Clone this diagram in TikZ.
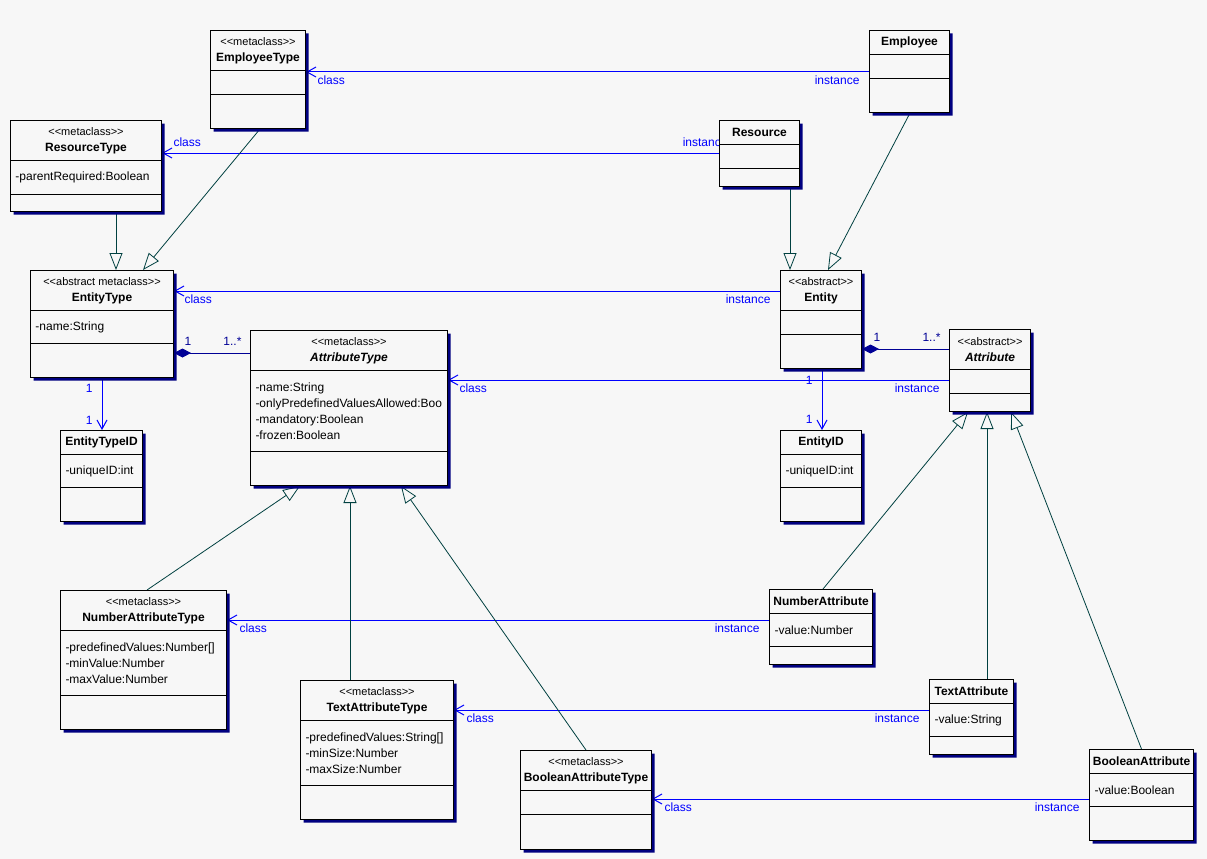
\documentclass[tikz,border=0pt]{standalone}
\usepackage{fontspec}
\setmainfont{Liberation Sans}
\usetikzlibrary{arrows.meta,shapes.multipart,shadows,backgrounds}

\definecolor{bgpaper}{RGB}{247,247,247}
\definecolor{shade}{RGB}{0,0,128}
\definecolor{genline}{RGB}{0,64,64}
\definecolor{assoc}{RGB}{0,0,255}
\definecolor{comp}{RGB}{0,0,150}

\pgfdeclarelayer{paper}
\pgfsetlayers{paper,background,main}

% class compartments
\newcommand{\ctitle}[4]{\parbox[c][#2pt][c]{#1pt}{\centering{\fontsize{11}{14}\selectfont<\kern0pt<#3>\kern0pt>}\\\textbf{#4}}}
\newcommand{\cname}[3]{\parbox[c][#2pt][c]{#1pt}{\centering\textbf{#3}}}
\newcommand{\cattr}[3]{\parbox[c][#2pt][c]{#1pt}{\raggedright\leftskip=5pt #3}}

\tikzset{
  umlclass/.style={rectangle split, rectangle split parts=3, draw=black, line width=1pt,
    fill=bgpaper, inner sep=0pt, anchor=north west,
    drop shadow={shadow xshift=3pt, shadow yshift=-3pt, fill=shade, opacity=1},
    font=\fontsize{12}{16}\selectfont},
  instof/.style={draw=assoc, line width=1pt, -{Straight Barb[length=9pt,width=10pt]}},
  generalize/.style={draw=genline, line width=0.8pt, -{Triangle[open,length=17pt,width=13pt]}},
  comppart/.style={draw=comp, line width=1pt, {Diamond[length=17pt,width=9pt]}-},
  lbl/.style={text=assoc, font=\fontsize{12}{14}\selectfont, inner xsep=0pt, inner ysep=3pt},
  mult/.style={lbl, text=comp, inner ysep=7pt}
}

\begin{document}
\begin{tikzpicture}[x=1pt,y=1pt,yscale=-1,xscale=1]
\begin{pgfonlayer}{paper}
\fill[bgpaper] (0,0) rectangle (1207,859);
\end{pgfonlayer}
\useasboundingbox (0,0) rectangle (1207,859);

%Classes
\node[umlclass] (employeetype) at (210,30) {\ctitle{95}{39}{metaclass}{EmployeeType}\nodepart{two}\cattr{95}{23}{}\nodepart{three}\cattr{95}{33}{}};
\node[umlclass] (resourcetype) at (10,120) {\ctitle{151}{39}{metaclass}{ResourceType}\nodepart{two}\cattr{151}{33}{-parentRequired:Boolean}\nodepart{three}\cattr{151}{16}{}};
\node[umlclass] (employee) at (869,30) {\cname{80}{23}{Employee}\nodepart{two}\cattr{80}{23}{}\nodepart{three}\cattr{80}{33}{}};
\node[umlclass] (resource) at (719,120) {\cname{80}{23}{Resource}\nodepart{two}\cattr{80}{23}{}\nodepart{three}\cattr{80}{17}{}};
\node[umlclass] (entitytype) at (30,270) {\ctitle{143}{39}{abstract metaclass}{EntityType}\nodepart{two}\cattr{143}{32}{-name:String}\nodepart{three}\cattr{143}{33}{}};
\node[umlclass] (entity) at (780,270) {\ctitle{81}{39}{abstract}{Entity}\nodepart{two}\cattr{81}{23}{}\nodepart{three}\cattr{81}{33}{}};
\node[umlclass] (attributetype) at (250,330) {\ctitle{197}{39}{metaclass}{\textit{AttributeType}}\nodepart{two}\cattr{197}{80}{-name:String\\-onlyPredefinedValuesAllowed:Boo\\-mandatory:Boolean\\-frozen:Boolean}\nodepart{three}\cattr{197}{33}{}};
\node[umlclass] (attribute) at (949,329) {\ctitle{81}{39}{abstract}{\textit{Attribute}}\nodepart{two}\cattr{81}{23}{}\nodepart{three}\cattr{81}{17}{}};
\node[umlclass] (entitytypeid) at (60,430) {\cname{82}{23}{EntityTypeID}\nodepart{two}\cattr{82}{32}{-uniqueID:int}\nodepart{three}\cattr{82}{33}{}};
\node[umlclass] (entityid) at (780,430) {\cname{81}{23}{EntityID}\nodepart{two}\cattr{81}{32}{-uniqueID:int}\nodepart{three}\cattr{81}{33}{}};
\node[umlclass] (numberattributetype) at (60,590) {\ctitle{166}{39}{metaclass}{NumberAttributeType}\nodepart{two}\cattr{166}{64}{-predefinedValues:Number[]\\-minValue:Number\\-maxValue:Number}\nodepart{three}\cattr{166}{33}{}};
\node[umlclass] (textattributetype) at (300,680) {\ctitle{153}{39}{metaclass}{TextAttributeType}\nodepart{two}\cattr{153}{64}{-predefinedValues:String[]\\-minSize:Number\\-maxSize:Number}\nodepart{three}\cattr{153}{33}{}};
\node[umlclass] (booleanattributetype) at (520,750) {\ctitle{131}{39}{metaclass}{BooleanAttributeType}\nodepart{two}\cattr{131}{23}{}\nodepart{three}\cattr{131}{34}{}};
\node[umlclass] (numberattribute) at (769,589) {\cname{103}{23}{NumberAttribute}\nodepart{two}\cattr{103}{32}{-value:Number}\nodepart{three}\cattr{103}{17}{}};
\node[umlclass] (textattribute) at (929,679) {\cname{84}{23}{TextAttribute}\nodepart{two}\cattr{84}{32}{-value:String}\nodepart{three}\cattr{84}{17}{}};
\node[umlclass] (booleanattribute) at (1089,749) {\cname{104}{23}{BooleanAttribute}\nodepart{two}\cattr{104}{32}{-value:Boolean}\nodepart{three}\cattr{104}{33}{}};

\begin{pgfonlayer}{background}
%Instance of
\draw[instof] (employee.west |- 0,72) -- (employeetype.east |- 0,72)
  node[lbl, pos=0, anchor=north east, xshift=-9pt] (inst1) {instance}
  node[lbl, pos=1, anchor=north west, xshift=11pt] (cls1) {class};
\draw[instof] (resource.west |- 0,153) -- (resourcetype.east |- 0,153)
  node[lbl, pos=0, anchor=south east, inner ysep=6pt, xshift=9pt] (inst2) {instance}
  node[lbl, pos=1, anchor=south west, inner ysep=6pt, xshift=11pt] (cls2) {class};
\draw[instof] (entity.west |- 0,291) -- (entitytype.east |- 0,291)
  node[lbl, pos=0, anchor=north east, xshift=-9pt] (inst3) {instance}
  node[lbl, pos=1, anchor=north west, xshift=10pt] (cls3) {class};
\draw[instof] (attribute.west |- 0,380) -- (attributetype.east |- 0,380)
  node[lbl, pos=0, anchor=north east, xshift=-9pt] (inst4) {instance}
  node[lbl, pos=1, anchor=north west, xshift=11pt] (cls4) {class};
\draw[instof] (numberattribute.west |- 0,620) -- (numberattributetype.east |- 0,620)
  node[lbl, pos=0, anchor=north east, xshift=-9pt] (inst5) {instance}
  node[lbl, pos=1, anchor=north west, xshift=12pt] (cls5) {class};
\draw[instof] (textattribute.west |- 0,710) -- (textattributetype.east |- 0,710)
  node[lbl, pos=0, anchor=north east, xshift=-9pt] (inst6) {instance}
  node[lbl, pos=1, anchor=north west, xshift=12pt] (cls6) {class};
\draw[instof] (booleanattribute.west |- 0,799) -- (booleanattributetype.east |- 0,799)
  node[lbl, pos=0, anchor=north east, xshift=-9pt] (inst7) {instance}
  node[lbl, pos=1, anchor=north west, xshift=12pt] (cls7) {class};

%Generalization
\draw[generalize] (resourcetype.south -| 116,0) -- (entitytype.north -| 116,0);
\draw[generalize] (employeetype.south -| 260,0) -- (entitytype.north -| 143,0);
\draw[generalize] (resource.south -| 790,0) -- (entity.north -| 790,0);
\draw[generalize] (employee.south -| 910,0) -- (entity.north -| 828,0);
\draw[generalize] (numberattributetype.north -| 147,0) -- (attributetype.south -| 300,0);
\draw[generalize] (textattributetype.north -| 350,0) -- (attributetype.south -| 350,0);
\draw[generalize] (booleanattributetype.north) -- (attributetype.south -| 401,0);
\draw[generalize] (numberattribute.north -| 823,0) -- (attribute.south -| 968,0);
\draw[generalize] (textattribute.north -| 987,0) -- (attribute.south -| 987,0);
\draw[generalize] (booleanattribute.north) -- (attribute.south -| 1011,0);

%Composition
\draw[comppart] (entitytype.east |- 0,353) -- (attributetype.west |- 0,353)
  node[mult, pos=0, anchor=south west, xshift=10pt] (m1) {1}
  node[mult, pos=1, anchor=south east, xshift=-8pt] (m2) {1..*};
\draw[comppart] (entity.east |- 0,349) -- (attribute.west |- 0,349)
  node[mult, pos=0, anchor=south west, xshift=11pt] (m3) {1}
  node[mult, pos=1, anchor=south east, xshift=-8pt] (m4) {1..*};

%Association
\draw[instof] (entitytype.south -| 102,0) -- (entitytypeid.north -| 102,0)
  node[lbl, pos=0, anchor=north east, inner ysep=6pt, xshift=-9pt] (m5) {1}
  node[lbl, pos=1, anchor=south east, inner ysep=5pt, xshift=-9pt] (m6) {1};
\draw[instof] (entity.south -| 822,0) -- (entityid.north -| 822,0)
  node[lbl, pos=0, anchor=north east, inner ysep=7pt, xshift=-9pt] (m7) {1}
  node[lbl, pos=1, anchor=south east, inner ysep=6pt, xshift=-9pt] (m8) {1};
\end{pgfonlayer}
\end{tikzpicture}
\end{document}
